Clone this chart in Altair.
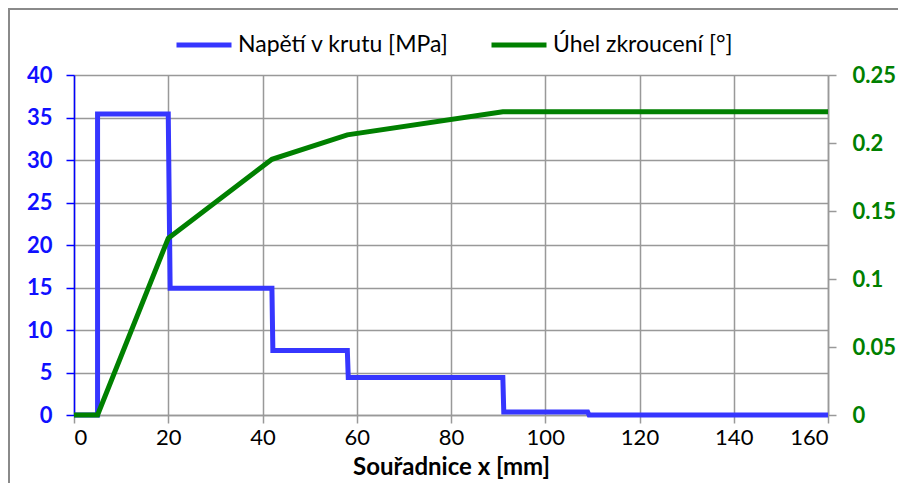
import altair as alt
import pandas as pd

# Stress in torsion [MPa]
stress_x = [0, 5, 5, 20, 20.4, 42, 42.2, 58, 58.2, 91, 91.2, 109, 109.3, 160]
stress_y = [0, 0, 35.4, 35.4, 14.9, 14.9, 7.6, 7.6, 4.4, 4.4, 0.35, 0.35, 0, 0]

# Angle of twist [deg]
angle_x = [0, 5, 20, 42, 58, 91, 160]
angle_y = [0, 0, 0.130, 0.188, 0.206, 0.223, 0.223]

series = ["Napětí v krutu [MPa]", "Úhel zkroucení [°]"]
colors = ["#3636FF", "#008000"]

x_ticks = [0, 20, 40, 60, 80, 100, 120, 140, 160]
left_ticks = [0, 5, 10, 15, 20, 25, 30, 35, 40]
right_ticks = [0, 0.05, 0.1, 0.15, 0.2, 0.25]

df_s = pd.DataFrame({"x": stress_x, "v": stress_y, "s": series[0],
                     "i": list(range(len(stress_x)))})
df_a = pd.DataFrame({"x": angle_x, "v": angle_y, "s": series[1],
                     "i": list(range(len(angle_x)))})

FONT = "Lato"

color_enc = alt.Color(
    "s:N",
    scale=alt.Scale(domain=series, range=colors),
    legend=alt.Legend(
        title=None, orient="none", direction="horizontal",
        legendX=100, legendY=-60,
        symbolType="stroke", symbolSize=3025, symbolStrokeWidth=5,
        labelFontSize=23, labelFont=FONT, labelColor="#000000",
        labelOffset=4, columnPadding=32, labelLimit=400,
    ),
)

x_enc = alt.X(
    "x:Q",
    scale=alt.Scale(domain=[0, 160], nice=False, zero=False),
    axis=alt.Axis(
        values=x_ticks, title="Souřadnice x [mm]", grid=True,
        gridColor="#999999", gridWidth=1.5,
        domainColor="#999999", domainWidth=1.5,
        tickColor="#999999", tickWidth=1.5, tickSize=8,
        labelFont=FONT, labelFontSize=22, labelColor="#000000",
        labelPadding=4, titleFont=FONT, titleFontSize=24,
        titleFontWeight="bold", titleColor="#000000", titlePadding=7,
    ),
)

blue = alt.Chart(df_s).mark_line(strokeWidth=5, strokeJoin="miter").encode(
    x=x_enc,
    y=alt.Y(
        "v:Q",
        scale=alt.Scale(domain=[0, 40], nice=False),
        axis=alt.Axis(
            orient="left", values=left_ticks, title=None, grid=True,
            gridColor="#999999", gridWidth=1.5,
            domainColor="#0000FF", domainWidth=1.5,
            tickColor="#0000FF", tickWidth=1.5, tickSize=8,
            labelFont=FONT, labelFontSize=22, labelFontWeight="bold",
            labelColor="#1010FF", labelPadding=14,
        ),
    ),
    color=color_enc,
    order="i:Q",
)

green = alt.Chart(df_a).mark_line(strokeWidth=5, strokeJoin="miter").encode(
    x=x_enc,
    y=alt.Y(
        "v:Q",
        scale=alt.Scale(domain=[0, 0.25], nice=False),
        axis=alt.Axis(
            orient="right", values=right_ticks, title=None, grid=False,
            format="~g",
            domainColor="#999999", domainWidth=1.5,
            tickColor="#999999", tickWidth=1.5, tickSize=8,
            labelFont=FONT, labelFontSize=22, labelFontWeight="bold",
            labelColor="#008000", labelPadding=16,
        ),
    ),
    color=color_enc,
    order="i:Q",
)

border = alt.Chart(pd.DataFrame({"a": [0]})).mark_rect(
    fill=None, stroke="#8a8a8a", strokeWidth=2
).encode(
    x=alt.value(-65), x2=alt.value(840), y=alt.value(-66), y2=alt.value(420)
)

chart = alt.layer(blue, green).resolve_scale(y="independent")
chart = alt.layer(chart, border).properties(
    width=754, height=340,
    autosize=alt.AutoSizeParams(type="none"),
    padding={"left": 66, "top": 67, "right": 70, "bottom": 68},
    background="white",
).configure_view(stroke=None)

chart.save("out.html", embed_options={"renderer": "svg", "actions": False})
